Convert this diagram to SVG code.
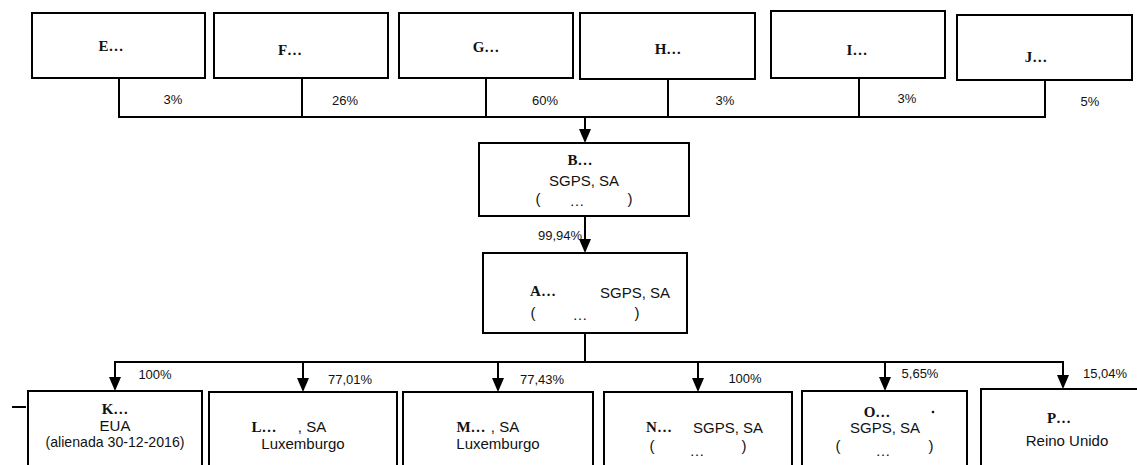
<svg xmlns="http://www.w3.org/2000/svg" width="1137" height="465" viewBox="0 0 1137 465">
<style>
.box{fill:#fff;stroke:#000;stroke-width:2}
.ln{fill:none;stroke:#000;stroke-width:2}
.t{font-family:"Liberation Serif","Times New Roman",serif;font-weight:bold;font-size:15px;fill:#111;text-anchor:middle}
.s{font-family:"Liberation Sans",Arial,sans-serif;font-size:15px;fill:#111;text-anchor:middle}
.p{font-family:"Liberation Sans",Arial,sans-serif;font-size:13px;fill:#111;text-anchor:middle}
</style>
<defs>
<marker id="arr" viewBox="0 0 14 12" refX="12" refY="6" markerWidth="14" markerHeight="12" orient="auto" markerUnits="userSpaceOnUse">
<path d="M0,0 L14,6 L0,12 z" fill="#000"/>
</marker>
</defs>
<rect width="1137" height="465" fill="#fff"/>

<g id="connectors">
<path class="ln" d="M119,78 V117 M302,78 V117 M486,78 V117 M668,79 V117 M859,78 V117 M1045,80 V117 M118,117 H1046"/>
<path class="ln" d="M585,117 V141" marker-end="url(#arr)"/>
<path class="ln" d="M585,216 V251" marker-end="url(#arr)"/>
<path class="ln" d="M585,333 V362 M114,362 H1064"/>
<path class="ln" d="M115,362 V389" marker-end="url(#arr)"/>
<path class="ln" d="M303,362 V390" marker-end="url(#arr)"/>
<path class="ln" d="M498,362 V390" marker-end="url(#arr)"/>
<path class="ln" d="M698,362 V390" marker-end="url(#arr)"/>
<path class="ln" d="M885,362 V389" marker-end="url(#arr)"/>
<path class="ln" d="M1063,362 V387" marker-end="url(#arr)"/>
<path class="ln" d="M12,407 H26"/>
<text class="p" x="173" y="104">3%</text>
<text class="p" x="345" y="105">26%</text>
<text class="p" x="545" y="105">60%</text>
<text class="p" x="725" y="105">3%</text>
<text class="p" x="907" y="103">3%</text>
<text class="p" x="1090" y="106">5%</text>
<text class="p" x="560" y="240">99,94%</text>
<text class="p" x="155" y="379">100%</text>
<text class="p" x="350" y="384">77,01%</text>
<text class="p" x="542" y="384">77,43%</text>
<text class="p" x="745" y="383">100%</text>
<text class="p" x="920" y="378">5,65%</text>
<text class="p" x="1105" y="378">15,04%</text>
</g>

<g id="node-E"><rect class="box" x="32" y="13" width="173" height="65"/><text class="t" x="111" y="51">E…</text></g>
<g id="node-F"><rect class="box" x="214" y="13" width="174" height="65"/><text class="t" x="290" y="55">F…</text></g>
<g id="node-G"><rect class="box" x="399" y="13" width="174" height="65"/><text class="t" x="486" y="52">G…</text></g>
<g id="node-H"><rect class="box" x="580" y="13" width="175" height="66"/><text class="t" x="668" y="54">H…</text></g>
<g id="node-I"><rect class="box" x="771" y="11" width="174" height="67"/><text class="t" x="857" y="55">I…</text></g>
<g id="node-J"><rect class="box" x="957" y="15" width="175" height="65"/><text class="t" x="1036" y="62">J…</text></g>

<g id="node-B"><rect class="box" x="479" y="143" width="210" height="73"/>
<text class="t" x="580" y="165">B…</text>
<text class="s" x="584" y="186">SGPS, SA</text>
<text class="s" x="538" y="204">(</text><text class="s" x="577" y="206">…</text><text class="s" x="630" y="204">)</text>
</g>

<g id="node-A"><rect class="box" x="483" y="253" width="204" height="80"/>
<text class="t" x="543" y="296">A…</text>
<text class="s" x="635" y="298">SGPS, SA</text>
<text class="s" x="533" y="318">(</text><text class="s" x="580" y="320">…</text><text class="s" x="637" y="318">)</text>
</g>

<g id="node-K"><rect class="box" x="28" y="391" width="174" height="90"/>
<text class="t" x="115" y="414">K…</text>
<text class="s" x="115" y="431">EUA</text>
<text class="s" x="115" y="447" font-size="12.5" textLength="139" lengthAdjust="spacingAndGlyphs">(alienada 30-12-2016)</text>
</g>

<g id="node-L"><rect class="box" x="209" y="392" width="188" height="90"/>
<text class="t" x="264" y="432">L…</text>
<text class="s" x="312" y="432">, SA</text>
<text class="s" x="303" y="449">Luxemburgo</text>
</g>

<g id="node-M"><rect class="box" x="403" y="392" width="190" height="90"/>
<text class="t" x="471" y="432">M…</text>
<text class="s" x="505" y="432">, SA</text>
<text class="s" x="498" y="449">Luxemburgo</text>
</g>

<g id="node-N"><rect class="box" x="604" y="392" width="188" height="90"/>
<text class="t" x="659" y="432">N…</text>
<text class="s" x="728" y="433">SGPS, SA</text>
<text class="s" x="652" y="451">(</text><text class="s" x="697" y="456">…</text><text class="s" x="744" y="451">)</text>
</g>

<g id="node-O"><rect class="box" x="802" y="391" width="165" height="90"/>
<text class="t" x="877" y="417">O…</text>
<circle cx="933" cy="412" r="1.3" fill="#111"/>
<text class="s" x="885" y="433">SGPS, SA</text>
<text class="s" x="838" y="451">(</text><text class="s" x="883" y="456">…</text><text class="s" x="931" y="451">)</text>
</g>

<g id="node-P"><rect class="box" x="981" y="389" width="170" height="92"/>
<text class="t" x="1059" y="423">P…</text>
<text class="s" x="1067" y="446">Reino Unido</text>
</g>
</svg>
